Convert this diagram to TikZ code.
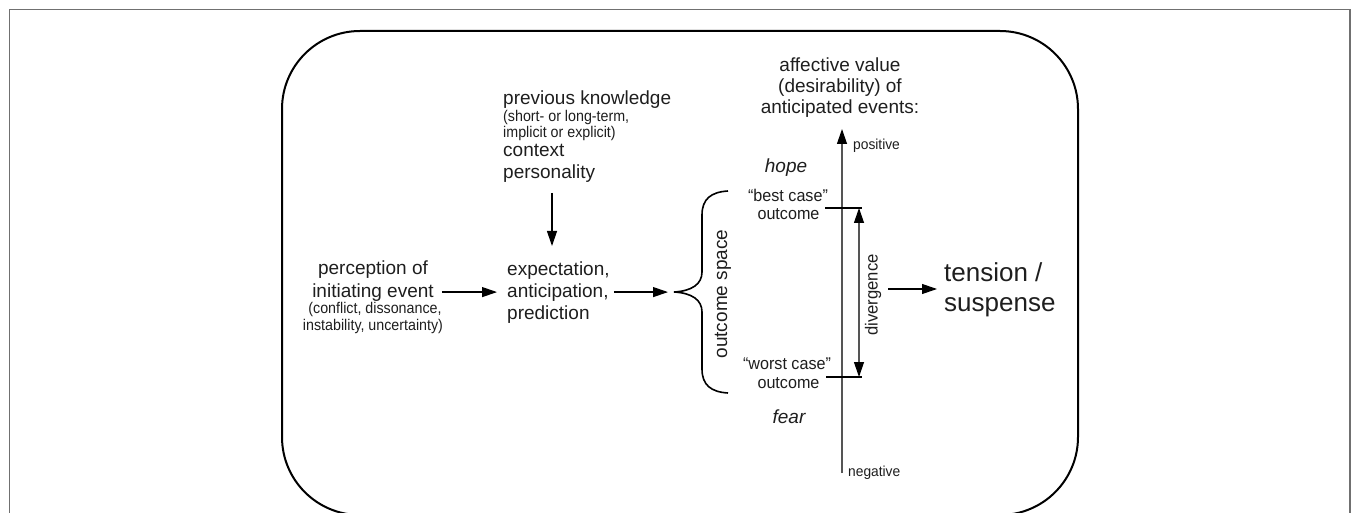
\documentclass[tikz,border=0pt]{standalone}
\usepackage{fontspec}
\setmainfont{Liberation Sans}
\newfontfamily\narrowfont[FakeStretch=0.92]{Liberation Sans}
\newfontfamily\semifont[FakeStretch=0.95]{Liberation Sans}
\usetikzlibrary{arrows.meta}
\definecolor{txt}{HTML}{1E1E1E}
\definecolor{axisgrey}{HTML}{555555}
\definecolor{framegrey}{HTML}{707070}
\begin{document}
\begin{tikzpicture}[x=1pt,y=-1pt,
  lbl/.style={inner sep=0pt, text=txt},
  big/.style={lbl,font=\fontsize{19}{22}\selectfont},
  bigit/.style={lbl,font=\fontsize{19}{22}\selectfont\itshape},
  small/.style={lbl,font=\narrowfont\fontsize{15.5}{16}\selectfont},
  mid/.style={lbl,font=\semifont\fontsize{17}{18}\selectfont},
  huge/.style={lbl,font=\fontsize{26}{30}\selectfont},
  tiny/.style={lbl,font=\semifont\fontsize{14.5}{15}\selectfont},
  arr/.style={line width=1.2pt, draw=black, -{Triangle[length=15pt,width=10pt]}},
  garr/.style={line width=1.2pt, draw=axisgrey, -{Triangle[length=15pt,width=10pt,color=black]}},
  gdarr/.style={line width=1.2pt, draw=axisgrey, {Triangle[length=15pt,width=10pt,color=black]}-{Triangle[length=15pt,width=10pt,color=black]}},
  tick/.style={line width=1.2pt, draw=black},
]
\useasboundingbox (0,0) rectangle (1355,513);
\clip (0,0) rectangle (1355,513);
% outer frame and rounded panel
\draw[framegrey, line width=1.3pt] (9.5,9.5) rectangle (1350,540);
\draw[line width=2pt, rounded corners=78pt] (282,31) rectangle (1078,515);

% previous knowledge block
\node[big, anchor=base west] (pk) at (503,105) {previous knowledge};
\node[small, anchor=base west] (pk2) at (503,121.5) {(short- or long-term,};
\node[small, anchor=base west] (pk3) at (503,137.5) {implicit or explicit)};
\node[big, anchor=base west] (ctx) at (503,157) {context};
\node[big, anchor=base west] (pers) at (503,179) {personality};

% perception block
\node[big, anchor=base] (perc1) at (373,275) {perception of};
\node[big, anchor=base] (perc2) at (373,297) {initiating event};
\node[small, anchor=base] (perc3) at (375,313) {(conflict, dissonance,};
\node[small, anchor=base] (perc4) at (373,330) {instability, uncertainty)};

% expectation block
\node[big, anchor=base west] (exp1) at (507,276) {expectation,};
\node[big, anchor=base west] (exp2) at (507,297) {anticipation,};
\node[big, anchor=base west] (exp3) at (507,319) {prediction};

% affective value header
\node[big, anchor=base] (aff1) at (840,71.5) {affective value};
\node[big, anchor=base] (aff2) at (840,93) {(desirability) of};
\node[big, anchor=base] (aff3) at (840,114) {anticipated events:};

\node[tiny, anchor=base west] (pos) at (853,150) {positive};
\node[tiny, anchor=base west] (neg) at (848,476.5) {negative};

\node[bigit, anchor=base] (hope) at (786,172.5) {hope};
\node[mid, anchor=base] (best1) at (788,201.5) {“best case”};
\node[mid, anchor=base] (best2) at (788.5,220) {outcome};
\node[mid, anchor=base] (worst1) at (787,369) {“worst case”};
\node[mid, anchor=base] (worst2) at (788.5,388) {outcome};
\node[bigit, anchor=base] (fear) at (789,423) {fear};

\node[big, rotate=90] (outs) at (723,294) {outcome space};
\node[lbl, font=\semifont\fontsize{17.5}{18}\selectfont, rotate=90] (div) at (873,295) {divergence};

\node[huge, anchor=base west] (ten1) at (944,281.5) {tension /};
\node[huge, anchor=base west] (ten2) at (944,311.5) {suspense};

% coordinates
\coordinate (k1) at (552,193);
\coordinate (k2) at (552,246);
\coordinate (btip) at (674,292);
\coordinate (axb) at (842,473);
\coordinate (axt) at (842,129);
\coordinate (bl) at (825,208);
\coordinate (br) at (862,208);
\coordinate (wl) at (826,377);
\coordinate (wr) at (862,377);
\coordinate (dt) at (859,208);
\coordinate (db) at (859,377);
\coordinate (dv) at (888,289);

% brace
\draw[line width=1.6pt, draw=black]
  (728,191) .. controls (711,192) and (702,199) .. (702,215)
  -- (702,272) .. controls (702,284) and (692,291) .. (btip)
  .. controls (692,293) and (702,300) .. (702,312)
  -- (702,369) .. controls (702,385) and (711,392) .. (728,393);

% connectors
\draw[arr] (k1) -- (k2);
\draw[arr, shorten <=8pt, shorten >=10pt] (perc2.east) -- (perc2.east -| exp2.west);
\draw[arr, shorten <=5pt, shorten >=6pt] (exp2.east) -- (exp2.east -| btip);
\draw[garr] (axb) -- (axt);
\draw[tick] (bl) -- (br);
\draw[tick] (wl) -- (wr);
\draw[gdarr] (dt) -- (db);
\draw[arr, shorten >=7pt] (dv) -- (dv -| ten1.west);
\end{tikzpicture}
\end{document}
